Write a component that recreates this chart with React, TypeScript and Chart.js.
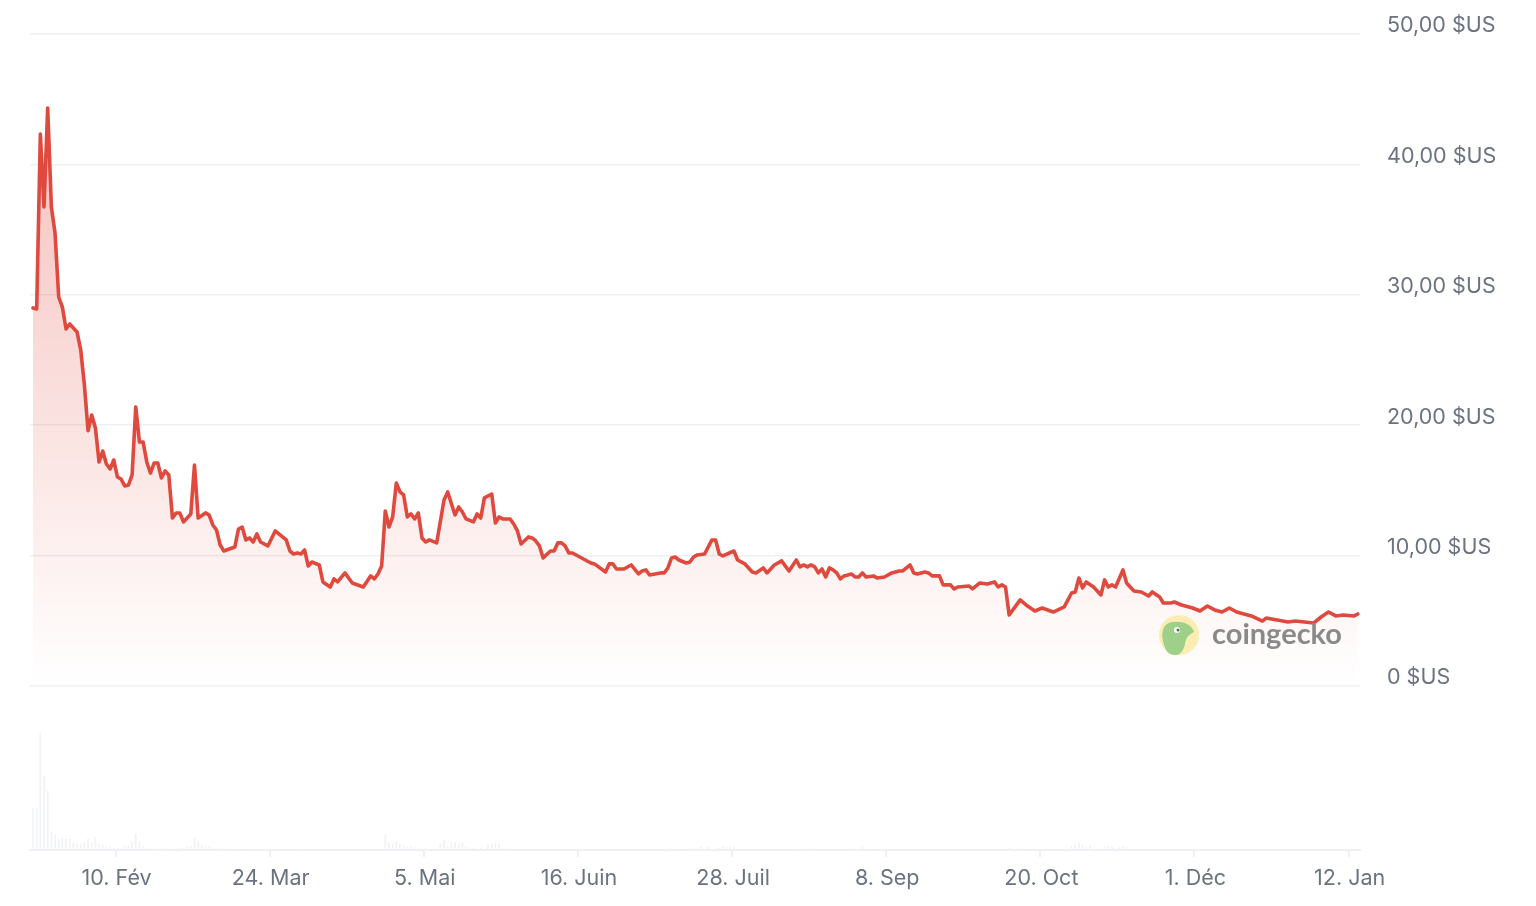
import React, { useEffect, useRef } from "react";
import { Chart, registerables } from "chart.js";

Chart.register(...registerables);

// Days since the first sample; prices in $US.
const days = [
  0, 1, 2, 3, 4, 5, 6, 7, 8, 9, 10, 12, 13, 14, 15, 16, 17, 18, 19, 20,
  21, 22, 23, 24, 25, 26, 27, 28, 29, 30, 31, 32, 33, 34, 35, 36, 37, 38, 39, 40,
  41, 43, 44, 45, 47, 48, 49, 50, 51, 52, 55, 56, 57, 58, 59, 60, 61, 62, 64, 66,
  69, 70, 71, 72, 73, 74, 75, 76, 78, 79, 81, 82, 83, 85, 87, 90, 92, 93, 94, 95,
  96, 97, 98, 99, 100, 101, 102, 103, 104, 105, 106, 107, 108, 110, 112, 113, 115, 116, 117, 118,
  120, 121, 122, 123, 125, 126, 127, 128, 130, 131, 132, 133, 135, 136, 137, 138, 139, 141, 142, 143,
  144, 145, 146, 147, 149, 152, 153, 156, 157, 158, 159, 161, 163, 165, 166, 167, 168, 171, 172, 173,
  174, 175, 176, 178, 179, 180, 181, 183, 185, 186, 187, 188, 191, 192, 194, 196, 197, 199, 200, 202,
  204, 206, 208, 209, 210, 211, 212, 213, 214, 215, 216, 217, 218, 219, 220, 221, 222, 223, 224, 225,
  226, 227, 229, 230, 232, 234, 236, 237, 239, 240, 241, 243, 244, 245, 247, 248, 250, 251, 252, 255,
  256, 258, 260, 262, 263, 264, 265, 266, 269, 271, 273, 275, 278, 281, 283, 284, 285, 286, 287, 289,
  291, 292, 293, 294, 295, 297, 298, 300, 302, 304, 305, 307, 308, 310, 311, 313, 316, 318, 320, 322,
  324, 326, 328, 332, 335, 336, 342, 344, 349, 351, 353, 355, 357, 360, 361,
];
const prices = [
  28.99, 28.91, 42.33, 36.73, 44.33, 36.73, 34.74, 29.83, 29.06, 27.38, 27.76, 27.15, 25.77, 23.08, 19.58, 20.78, 19.79, 17.18, 18.02, 17.02,
  16.64, 17.33, 16.03, 15.87, 15.34, 15.41, 16.18, 21.4, 18.71, 18.71, 17.18, 16.33, 17.1, 17.1, 15.95, 16.49, 16.18, 12.88, 13.27, 13.27,
  12.58, 13.19, 16.95, 12.88, 13.27, 13.11, 12.35, 11.96, 10.81, 10.35, 10.66, 12.04, 12.19, 11.2, 11.35, 11.04, 11.66, 11.04, 10.74, 11.89,
  11.2, 10.35, 10.12, 10.2, 10.12, 10.43, 9.2, 9.51, 9.28, 7.98, 7.59, 8.21, 7.98, 8.67, 7.9, 7.59, 8.44, 8.21, 8.59, 9.2,
  13.42, 12.19, 12.96, 15.57, 14.88, 14.65, 12.96, 13.19, 12.81, 13.27, 11.35, 11.04, 11.2, 10.97, 14.26, 14.88, 13.11, 13.73, 13.34, 12.81,
  12.58, 13.19, 12.88, 14.42, 14.72, 12.5, 12.96, 12.81, 12.81, 12.42, 11.89, 10.89, 11.43, 11.35, 11.12, 10.74, 9.82, 10.35, 10.35, 10.97,
  10.97, 10.74, 10.2, 10.2, 9.89, 9.43, 9.36, 8.74, 9.36, 9.36, 8.97, 8.97, 9.28, 8.59, 8.82, 8.9, 8.51, 8.67, 8.67, 9.05,
  9.82, 9.89, 9.66, 9.43, 9.51, 9.89, 10.05, 10.12, 11.2, 11.2, 10.12, 9.97, 10.35, 9.66, 9.36, 8.74, 8.67, 9.05, 8.67, 9.28,
  9.59, 8.82, 9.66, 9.13, 9.28, 9.13, 9.28, 9.13, 8.67, 8.97, 8.36, 9.05, 8.9, 8.67, 8.21, 8.44, 8.51, 8.59, 8.36, 8.36,
  8.67, 8.36, 8.44, 8.28, 8.36, 8.67, 8.82, 8.82, 9.28, 8.67, 8.59, 8.74, 8.67, 8.44, 8.44, 7.75, 7.75, 7.44, 7.59, 7.67,
  7.44, 7.9, 7.82, 7.98, 7.59, 7.75, 7.59, 5.44, 6.6, 6.13, 5.75, 5.98, 5.67, 6.06, 7.13, 7.21, 8.28, 7.52, 7.98, 7.59,
  6.98, 8.13, 7.59, 7.75, 7.59, 8.9, 7.9, 7.29, 7.21, 6.9, 7.21, 6.83, 6.36, 6.36, 6.44, 6.21, 5.98, 5.75, 6.13, 5.83,
  5.67, 5.98, 5.67, 5.37, 4.98, 5.21, 4.91, 4.98, 4.83, 5.29, 5.67, 5.37, 5.44, 5.37, 5.52,
];

// Relative traded volume (the axis is hidden in the original).
const volumeDays = [
  0, 1, 2, 3, 4, 5, 6, 7, 8, 9, 10, 11, 12, 13, 14, 15, 16, 17, 18, 19,
  20, 21, 22, 23, 24, 25, 26, 27, 28, 29, 30, 31, 32, 33, 34, 36, 38, 40, 41, 42,
  43, 44, 45, 46, 47, 48, 49, 50, 52, 54, 56, 59, 62, 66, 72, 96, 97, 98, 99, 100,
  101, 102, 103, 104, 105, 107, 110, 111, 112, 113, 114, 115, 116, 117, 118, 119, 120, 122, 124, 125,
  126, 127, 174, 180, 182, 184, 187, 188, 189, 190, 191, 209, 226, 227, 266, 283, 284, 285, 286, 287,
  288, 292, 293, 294, 296, 297, 298,
];
const volumes = [
  42, 42, 117, 74, 59, 18, 15, 11, 12, 11, 11, 7, 6, 6, 7, 11, 7, 13, 6, 5,
  4, 3, 2, 2, 1, 4, 4, 8, 16, 8, 4, 2, 2, 2, 1, 2, 1, 2, 2, 3,
  4, 12, 8, 5, 4, 3, 2, 2, 1, 1, 1, 1, 1, 1, 1, 16, 8, 6, 8, 6,
  5, 3, 3, 2, 1, 2, 1, 6, 10, 3, 7, 8, 6, 7, 3, 2, 2, 2, 5, 6,
  7, 6, 2, 2, 3, 3, 2, 4, 3, 4, 3, 2, 4, 1, 2, 4, 5, 7, 5, 3,
  4, 3, 4, 3, 2, 4, 3,
];

const xTickDays = [22.5, 64.5, 106.5, 148.5, 190.5, 232.5, 274.5, 316.5, 358.5];
const xTickLabels = ["10. Fév", "24. Mar", "5. Mai", "16. Juin", "28. Juil", "8. Sep", "20. Oct", "1. Déc", "12. Jan"];
const yTickValues = [0, 10, 20, 30, 40, 50];
const yTickLabels = ["0 $US", "10,00 $US", "20,00 $US", "30,00 $US", "40,00 $US", "50,00 $US"];

const FONT = "Inter, 'Noto Sans', sans-serif";
const TEXT = "#6b7280";
const GRID = "#eff0f3";

const watermark = {
  id: "watermark",
  afterDatasetsDraw(chart: any) {
    const c = chart.ctx;
    c.save();
    c.fillStyle = "#fbedb2";
    c.beginPath();
    c.arc(1179, 635, 20, 0, Math.PI * 2);
    c.fill();
    c.fillStyle = "#9fd08a";
    c.beginPath();
    c.moveTo(1166, 650);
    c.bezierCurveTo(1158, 632, 1164, 622, 1174, 622);
    c.bezierCurveTo(1184, 621, 1192, 625, 1194, 632);
    c.bezierCurveTo(1188, 635, 1186, 638, 1185, 644);
    c.bezierCurveTo(1184, 650, 1180, 655, 1176, 655);
    c.bezierCurveTo(1172, 655, 1168, 654, 1166, 650);
    c.fill();
    c.fillStyle = "#ffffff";
    c.beginPath();
    c.arc(1177, 630, 3, 0, Math.PI * 2);
    c.fill();
    c.fillStyle = "#5b6b5a";
    c.beginPath();
    c.arc(1178, 630, 1.5, 0, Math.PI * 2);
    c.fill();
    c.fillStyle = "#8a8a8a";
    c.font = "bold 29px Lato, 'Noto Sans', sans-serif";
    c.textAlign = "left";
    c.textBaseline = "middle";
    c.fillText("coingecko", 1212, 635);
    c.restore();
  },
};

export default function App() {
  const ref = useRef<HTMLCanvasElement>(null);

  useEffect(() => {
    if (!ref.current) return;
    const chart = new Chart(ref.current, {
      type: "line",
      plugins: [watermark],
      data: {
        datasets: [
          {
            type: "line",
            data: days.map((d, i) => ({ x: d, y: prices[i] })),
            borderColor: "#e0493d",
            borderWidth: 3.6,
            borderJoinStyle: "round",
            borderCapStyle: "round",
            pointRadius: 0,
            tension: 0,
            fill: { value: 0 },
            yAxisID: "y",
            order: 1,
            backgroundColor: (ctx: any) => {
              const y = ctx.chart.scales.y;
              const top = y ? y.getPixelForValue(50) : NaN;
              const bottom = y ? y.getPixelForValue(0) : NaN;
              if (!Number.isFinite(top) || !Number.isFinite(bottom)) return "rgba(226,73,61,0.1)";
              const g = ctx.chart.ctx.createLinearGradient(0, top, 0, bottom);
              g.addColorStop(0, "rgba(226,73,61,0.39)");
              g.addColorStop(1, "rgba(226,73,61,0)");
              return g;
            },
          },
          {
            type: "bar",
            data: volumeDays.map((d, i) => ({ x: d, y: volumes[i] })),
            backgroundColor: "#f2f3f5",
            barThickness: 1.2,
            yAxisID: "yVolume",
            order: 2,
          },
        ],
      } as any,
      options: {
        animation: false,
        responsive: false,
        devicePixelRatio: 1,
        events: [],
        layout: { padding: { left: 30, top: 34, right: 0, bottom: 0 } },
        plugins: { legend: { display: false }, tooltip: { enabled: false }, title: { display: false } },
        scales: {
          x: {
            type: "linear",
            offset: false,
            min: -0.82,
            max: 361.6,
            afterFit: (s: any) => { s.height = 56; s.paddingLeft = 0; s.paddingRight = 0; },
            afterBuildTicks: (s: any) => { s.ticks = xTickDays.map((value) => ({ value })); },
            grid: { offset: false, drawOnChartArea: false, drawTicks: true, tickLength: 7, color: GRID, lineWidth: 2 },
            border: { color: GRID, width: 2 },
            ticks: {
              autoSkip: false,
              maxRotation: 0,
              padding: 9,
              labelOffset: 1,
              color: TEXT,
              font: { family: FONT, size: 21.5 },
              callback: (_v: any, i: number) => xTickLabels[i],
            },
          },
          y: {
            position: "right",
            min: -12.58,
            max: 50,
            afterFit: (s: any) => { s.width = 176; s.paddingTop = 0; s.paddingBottom = 0; },
            afterBuildTicks: (s: any) => { s.ticks = yTickValues.map((value) => ({ value })); },
            grid: { drawTicks: false, color: GRID, lineWidth: 1.5 },
            border: { display: false },
            ticks: {
              padding: 27,
              labelOffset: -8,
              color: TEXT,
              font: { family: FONT, size: 21.5 },
              callback: (_v: any, i: number) => yTickLabels[i],
            },
          },
          yVolume: { display: false, min: 0, max: 816 },
        },
      } as any,
    });
    return () => chart.destroy();
  }, []);

  return (
    <div style={{ position: "absolute", left: 0, top: 0, width: 1536, height: 906, background: "#ffffff" }}>
      <canvas ref={ref} width={1536} height={906} style={{ display: "block" }} />
    </div>
  );
}
